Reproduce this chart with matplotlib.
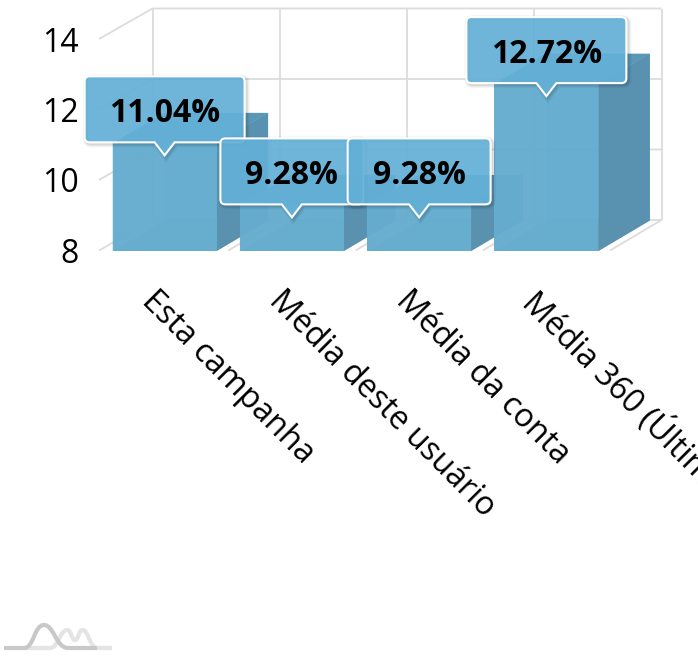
import matplotlib
matplotlib.use('Agg')
import matplotlib.pyplot as plt
from matplotlib.patches import Polygon, PathPatch
from matplotlib.path import Path

plt.rcParams['font.family'] = ['Open Sans', 'DejaVu Sans']

categories = ['Esta campanha', 'Média deste usuário', 'Média da conta', 'Média 360 (Últimos 30 dias)']
values = [11.04, 9.28, 9.28, 12.72]
value_labels = ['11.04%', '9.28%', '9.28%', '12.72%']
y_ticks = [8, 10, 12, 14]
box_widths = [160, 143, 143, 160]

W, H = 698, 656
LEFT, RIGHT, TOP, BASE = 101, 610, 39, 250.5
fig = plt.figure(figsize=(W / 100, H / 100), dpi=100)
ax = fig.add_axes([LEFT / W, (H - BASE) / H, (RIGHT - LEFT) / W, (BASE - TOP) / H])
ax.set_xlim(-0.5, 3.5)
ax.set_ylim(8, 14)
for s in ax.spines.values():
    s.set_visible(False)
ax.patch.set_alpha(0)

# pixels to data units
ux = 1 / ((RIGHT - LEFT) / 4)
uy = 1 / ((BASE - TOP) / 6)
dx = 51.5 * ux
dy = 30.5 * uy
bar_w = 104 * ux
GRID = '#dcdcdc'


def poly(pts, color, alpha=1.0, z=2):
    ax.add_patch(Polygon(pts, closed=True, fc=color, ec='none', alpha=alpha, zorder=z, clip_on=False))


def line(xs, ys, z=1):
    ax.plot(xs, ys, color=GRID, lw=1.3, zorder=z, clip_on=False, solid_capstyle='butt')


# walls and grid
for t in y_ticks:
    line([-0.5 - 2 * ux, -0.5 + dx, 3.5 + dx], [t, t + dy, t + dy])
for i in range(5):
    line([-0.5 + i + dx, -0.5 + i + dx], [8 + dy, 14 + dy])
    if i > 0:
        line([-0.5 + i, -0.5 + i + dx], [8, 8 + dy])

# bars, one box at a time
for i, v in enumerate(values):
    x0 = i - bar_w / 2
    x1 = i + bar_w / 2
    y0 = 8 - 0.5 * uy
    z = 2 + i
    poly([(x0 + dx, y0 + dy), (x1 + dx, y0 + dy), (x1 + dx, v + dy), (x0 + dx, v + dy)], '#67b7dc', 0.85, z)
    poly([(x0, y0), (x0 + dx, y0 + dy), (x0 + dx, v + dy), (x0, v)], '#5a9fc2', 0.55, z)
    poly([(x0, y0), (x1, y0), (x1 + dx, y0 + dy), (x0 + dx, y0 + dy)], '#5a9bbb', 0.8, z)
    poly([(x1, y0), (x1 + dx, y0 + dy), (x1 + dx, v + dy), (x1, v)], '#5890af', 0.97, z)
    poly([(x0, v), (x1, v), (x1 + dx, v + dy), (x0 + dx, v + dy)], '#5a95b4', 0.95, z)
    poly([(x0, y0), (x1, y0), (x1, v), (x0, v)], '#65adcf', 0.92, z)


def callout(x, v, w):
    # rounded box with a small pointer, measured in pixels from the bar top
    tip = v - 12 * uy
    b = tip + 13 * uy
    t = b + 66 * uy
    hw = w / 2 * ux
    r = 5
    rx, ry = r * ux, r * uy
    pw = 10 * ux
    verts = [(x, tip), (x + pw, b), (x + hw - rx, b), (x + hw, b), (x + hw, b + ry),
             (x + hw, t - ry), (x + hw, t), (x + hw - rx, t),
             (x - hw + rx, t), (x - hw, t), (x - hw, t - ry),
             (x - hw, b + ry), (x - hw, b), (x - hw + rx, b),
             (x - pw, b), (x, tip)]
    codes = [Path.MOVETO, Path.LINETO, Path.LINETO, Path.CURVE3, Path.CURVE3,
             Path.LINETO, Path.CURVE3, Path.CURVE3,
             Path.LINETO, Path.CURVE3, Path.CURVE3,
             Path.LINETO, Path.CURVE3, Path.CURVE3,
             Path.LINETO, Path.CLOSEPOLY]
    return verts, codes


for i, v in enumerate(values):
    z = 10 + 2 * i
    verts, codes = callout(i, v, box_widths[i])
    shadow = [(px + 1.5 * ux, py - 1.5 * uy) for px, py in verts]
    for lw, a in [(5, 0.04), (3.5, 0.05), (2, 0.07)]:
        ax.add_patch(PathPatch(Path(shadow, codes), fc='none', ec='black', lw=lw, alpha=a, zorder=z, clip_on=False))
    ax.add_patch(PathPatch(Path(verts, codes), fc='#63b0d7', ec='none', alpha=0.93, zorder=z + 1, clip_on=False))
    ax.add_patch(PathPatch(Path(verts, codes), fc='none', ec='white', lw=1.5, zorder=z + 1, clip_on=False))
    ax.text(i, v + 30 * uy, value_labels[i], ha='center', va='center',
            fontsize=23, fontweight='bold', color='black', zorder=z + 2, clip_on=False)

ax.set_yticks(y_ticks)
ax.set_yticklabels([str(t) for t in y_ticks], fontsize=23, va='center_baseline')
ax.tick_params(axis='y', length=0, pad=16)
for lab in ax.get_yticklabels():
    lab.set_y(lab.get_position()[1])
ax.set_xticks(range(4))
ax.set_xticklabels([])
ax.tick_params(axis='x', length=0)
for i, name in enumerate(categories):
    ax.annotate(name, xy=(i, 8), xycoords='data', xytext=(-6, -34), textcoords='offset pixels',
                fontsize=23.2, rotation=-45, ha='left', va='top', rotation_mode='anchor',
                annotation_clip=False)

# logo in the lower left corner
logo = fig.add_axes([0, 0, 1, 1])
logo.set_xlim(0, W)
logo.set_ylim(H, 0)
logo.axis('off')
logo.patch.set_alpha(0)
C4 = Path.CURVE4
logo.add_patch(PathPatch(Path([(24, 648), (50, 648), (58, 648), (60, 630), (67, 630), (72, 630), (71, 640), (75, 640),
                               (79, 640), (78, 630), (83, 630), (88, 630), (90, 648), (97, 648), (112, 648)],
                              [Path.MOVETO, Path.LINETO] + [C4] * 12 + [Path.LINETO]),
                         fc='none', ec='#e4e4e4', lw=3))
logo.add_patch(PathPatch(Path([(4, 648), (24, 648), (34, 648), (34, 625), (44, 625), (54, 625), (56, 648), (68, 648), (97, 648)],
                              [Path.MOVETO, Path.LINETO] + [C4] * 6 + [Path.LINETO]),
                         fc='none', ec='#c8c8c8', lw=3))

fig.savefig('out.png', dpi=100)
